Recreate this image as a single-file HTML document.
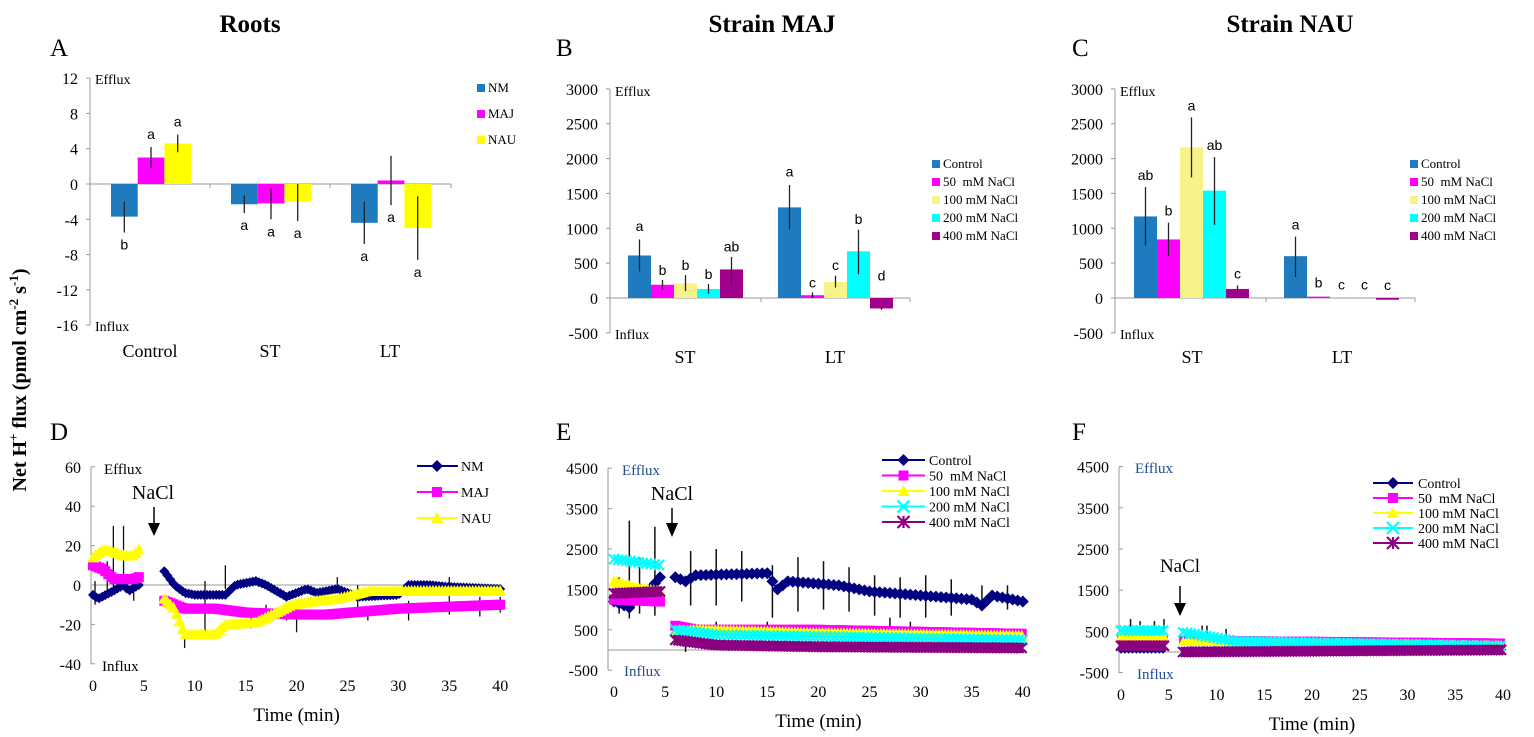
<!DOCTYPE html>
<html><head><meta charset="utf-8">
<style>
html,body{margin:0;padding:0;background:#fff;width:1534px;height:737px;overflow:hidden}
svg{display:block}
</style></head>
<body>
<svg id="s" xmlns="http://www.w3.org/2000/svg" width="1534" height="737" viewBox="0 0 1534 737" font-family="Liberation Serif, serif"></svg>
<script>
var S=document.getElementById('s');var o='';
function T(x,y,t,sz,a,ex){o+='<text x="'+x+'" y="'+y+'" font-size="'+sz+'" text-anchor="'+(a||'start')+'" '+(ex||'')+'>'+t+'</text>';}
function L(x1,y1,x2,y2,c,w){o+='<line x1="'+x1+'" y1="'+y1+'" x2="'+x2+'" y2="'+y2+'" stroke="'+(c||'#000')+'" stroke-width="'+(w||1)+'"/>';}
function R(x,y,w,h,c){if(h<0){y+=h;h=-h;}o+='<rect x="'+x+'" y="'+y+'" width="'+w+'" height="'+h+'" fill="'+c+'"/>';}
// titles
T(250,32,'Roots',25,'middle','font-weight="bold"');
T(772,32,'Strain MAJ',25,'middle','font-weight="bold"');
T(1290,32,'Strain NAU',25,'middle','font-weight="bold"');
[['A',50,56],['B',556,56],['C',1072,56],['D',50,440],['E',556,440],['F',1072,440]].forEach(function(p){T(p[1],p[2],p[0],25);});
o+='<text transform="translate(26,380) rotate(-90)" font-size="20" font-weight="bold" text-anchor="middle">Net H<tspan font-size="13" dy="-8">+</tspan><tspan dy="8"> flux (pmol cm</tspan><tspan font-size="13" dy="-8">-2</tspan><tspan dy="8"> s</tspan><tspan font-size="13" dy="-8">-1</tspan><tspan dy="8">)</tspan></text>';
var AX='#999';
// ---------- Panel A ----------
(function(){var ax=90,y0=184,k=8.82;function Y(v){return y0-v*k;}
L(ax,78,ax,325,AX);for(var v=12;v>=-16;v-=4){L(ax-4,Y(v),ax,Y(v),AX);T(ax-12,Y(v)+6,v,16,'end');}
L(ax,y0,451,y0,AX);[210,330,451].forEach(function(x){L(x,y0,x,y0+4,AX);});
T(95,84,'Efflux',14);T(95,331,'Influx',14);
T(150,357,'Control',18,'middle');T(270,357,'ST',18,'middle');T(390,357,'LT',18,'middle');
var cols=['#1f7bbf','#ff00ff','#ffff00'];
var d=[[[-3.7,-2,-5.5,'b',-1],[3.0,4.2,1.8,'a',1],[4.6,5.6,3.6,'a',1]],[[-2.3,-1.3,-3.3,'a',-1],[-2.2,-0.5,-4,'a',-1],[-2,0,-4.2,'a',-1]],[[-4.4,-2,-6.8,'a',-1],[0.4,3.2,-2.4,'a',-1],[-5,-1.4,-8.6,'a',-1]]];
var st=[111,231,351];
d.forEach(function(g,gi){g.forEach(function(b,bi){var x=st[gi]+bi*26.7;R(x,y0,26.7,-b[0]*k,cols[bi]);var cx=x+13.3;L(cx,Y(b[1]),cx,Y(b[2]),'#222',1.3);
var ly=b[4]>0?Y(b[1])-8:Y(b[2])+17;T(cx,ly,b[3],14,'middle','font-family="Liberation Sans, sans-serif"');});});
['NM','MAJ','NAU'].forEach(function(n,i){R(477,84+i*26,8,8,cols[i]);T(488,92+i*26,n,13);});
})();
// ---------- Panels B, C ----------
var bc=['#1f7bbf','#ff00ff','#f7f38a','#00ffff','#a0008c'];
var names=['Control','50&#160; mM NaCl','100 mM NaCl','200 mM NaCl','400 mM NaCl'];
function barPanel(ax,xend,sep,st,lt,data,leg,labs){var y0=298,k=244/3500;function Y(v){return y0-v*k;}
L(ax,89,ax,333,AX);for(var v=3000;v>=-500;v-=500){L(ax-4,Y(v),ax,Y(v),AX);T(ax-12,Y(v)+6,v,16,'end');}
L(ax,y0,xend,y0,AX);L(sep,y0,sep,y0+4,AX);L(xend,y0,xend,y0+4,AX);
T(ax+5,96,'Efflux',14);T(ax+5,339,'Influx',14);
T(labs[0],363,'ST',18,'middle');T(labs[1],363,'LT',18,'middle');
data.forEach(function(g,gi){var s0=gi?lt:st;g.forEach(function(b,i){var x=s0+i*23;R(x,y0,23,-b[0]*k,bc[i]);var cx=x+11.5;if(b[1]!=null)L(cx,Y(b[1]),cx,Y(b[2]),'#222',1.3);
T(cx,Y(b[3]),b[4],14,'middle','font-family="Liberation Sans, sans-serif"');});});
names.forEach(function(n,i){R(leg,160+i*18,8,8,bc[i]);T(leg+11,168+i*18,n,13);});}
barPanel(610,910,761,628,778,[[[610,840,380,960,'a'],[190,260,120,330,'b'],[210,330,100,400,'b'],[130,200,60,270,'b'],[410,590,210,670,'ab']],[[1300,1620,980,1740,'a'],[40,80,0,150,'c'],[230,320,150,400,'c'],[670,980,340,1060,'b'],[-150,-130,-170,250,'d']]],932,[685,835]);
barPanel(1115,1415,1266,1134,1284,[[[1170,1590,750,1690,'ab'],[840,1080,600,1180,'b'],[2160,2590,1730,2690,'a'],[1540,2020,1050,2120,'ab'],[130,180,80,280,'c']],[[600,880,300,980,'a'],[20,null,null,150,'b'],[0,null,null,120,'c'],[0,null,null,120,'c'],[-25,null,null,115,'c']]],1410,[1192,1342]);
// ---------- time series ----------
function interp(pts,t){for(var i=0;i<pts.length-1;i++){if(t>=pts[i][0]&&t<=pts[i+1][0]){var a=pts[i],b=pts[i+1];return a[1]+(b[1]-a[1])*(t-a[0])/(b[0]-a[0]);}}return pts[pts.length-1][1];}
function mk(type,x,y,c,s){s=s||5;if(type==0)o+='<polygon points="'+x+','+(y-s)+' '+(x+s)+','+y+' '+x+','+(y+s)+' '+(x-s)+','+y+'" fill="'+c+'"/>';
else if(type==1)o+='<rect x="'+(x-s+1)+'" y="'+(y-s+1)+'" width="'+(2*s-2)+'" height="'+(2*s-2)+'" fill="'+c+'"/>';
else if(type==2)o+='<polygon points="'+x+','+(y-s)+' '+(x+s)+','+(y+s-1)+' '+(x-s)+','+(y+s-1)+'" fill="'+c+'"/>';
else if(type==3){o+='<path d="M'+(x-s)+' '+(y-s)+'L'+(x+s)+' '+(y+s)+'M'+(x+s)+' '+(y-s)+'L'+(x-s)+' '+(y+s)+'" stroke="'+c+'" stroke-width="2.2"/>';}
else{o+='<path d="M'+(x-s)+' '+(y-s)+'L'+(x+s)+' '+(y+s)+'M'+(x+s)+' '+(y-s)+'L'+(x-s)+' '+(y+s)+'M'+x+' '+(y-s)+'L'+x+' '+(y+s)+'" stroke="'+c+'" stroke-width="2.2"/>';}}
function series(X,Y,segs,c,type,step,sz){segs.forEach(function(pts){var p='';for(var t=pts[0][0];t<=pts[pts.length-1][0]+1e-6;t+=step){var v=interp(pts,t)+((Math.round(t/step)%2)?1:-1)*0.0;p+=(p?'L':'M')+X(t).toFixed(1)+' '+Y(v).toFixed(1);}
o+='<path d="'+p+'" fill="none" stroke="'+c+'" stroke-width="1.5"/>';for(var t=pts[0][0];t<=pts[pts.length-1][0]+1e-6;t+=step){mk(type,X(t),Y(interp(pts,t)),c,sz);}});}
function tsAxes(ax,x0,kx,ytop,ybot,y0,vals,Y,ecol){L(ax,ytop,ax,ybot,AX);vals.forEach(function(v){L(ax,Y(v),ax+4,Y(v),AX);T(ax-10,Y(v)+6,v,16,'end');});
L(ax,y0,x0+40*kx,y0,AX);for(var t=0;t<=40;t+=5)T(x0+t*kx,ybot+27,t,16,'middle');
T(x0+20*kx,ybot+57,'Time (min)',19,'middle');}
// Panel D
(function(){var ax=91,x0=93,kx=10.18,y0=585,k=1.97;function X(t){return x0+t*kx;}function Y(v){return y0-v*k;}
tsAxes(ax,x0,kx,467,664,y0,[60,40,20,0,-20,-40],Y);
T(ax+13,474,'Efflux',15);T(ax+11,671,'Influx',15);
T(153,499,'NaCl',20,'middle');L(154,507,154,527,'#000',1.5);o+='<polygon points="148,523 160,523 154,536" fill="#000"/>';
[[0.2,-10,2],[1.4,-5,12],[2,30,-4],[3,30,-2],[4,-2,-8],[9,-32,-25],[11,2,-25],[13,10,-2],[15.5,-22,-15],[17,-20,-10],[19,-18,-10],[20,-24,-14],[24,4,-4],[26,0,-15],[27,-18,-12],[31,-18,-8],[35,4,-15],[38,-16,-6],[40,-14,-6]].forEach(function(e){L(X(e[0]),Y(e[1]),X(e[0]),Y(e[2]),'#111',1.3);});
series(X,Y,[[[0,-5],[0.5,-7],[2,-3],[3,0],[3.5,-3],[4.5,0]],[[7,7],[8,0],[9,-4],[10,-5],[13,-5],[14,0],[16,2],[17,0],[19,-6],[20,-4],[21,-2],[22,-4],[24,-2],[25,-4],[26,-6],[30,-5],[31,0],[33,0],[35,-1],[40,-2]]],'#000080',0,0.3,5);
series(X,Y,[[[0,10],[1,8],[2,3],[4,3],[4.5,4]],[[7,-8],[9,-12],[12,-12],[15,-14],[20,-15],[23,-15],[30,-12],[40,-10]]],'#ff00ff',1,0.3,6);
series(X,Y,[[[0,14],[1,18],[2,17],[3,15],[4,15],[4.5,18]],[[7,-7],[8,-12],[9,-25],[12,-25],[13,-20],[16,-19],[18,-14],[19.5,-10],[22,-8],[24,-7],[27,-3],[33,-3],[40,-3]]],'#ffff00',2,0.3,6);
var lg=[['NM','#000080',0],['MAJ','#ff00ff',1],['NAU','#ffff00',2]];lg.forEach(function(l,i){var y=466+i*26;L(417,y,458,y,l[1],2);mk(l[2],437,y,l[1],6);T(461,y+5,l[0],14);});
})();
function legE(x1,x2,tx,ys){var c=[['#000080',0],['#ff00ff',1],['#ffff00',2],['#00ffff',3],['#8b0080',4]];names.forEach(function(n,i){var y=ys[0]+i*ys[1];L(x1,y,x2,y,c[i][0],2);mk(c[i][1],(x1+x2)/2,y,c[i][0],6);T(tx,y+5,n,14);});}
// Panel E
(function(){var ax=608,x0=614,kx=10.22,y0=650,k=0.0404;function X(t){return x0+t*kx;}function Y(v){return y0-v*k;}
tsAxes(ax,x0,kx,468,670,y0,[4500,3500,2500,1500,500,-500],Y);
T(622,475,'Efflux',15,'start','fill="#1f4e8c"');T(624,676,'Influx',15,'start','fill="#1f4e8c"');
T(672,500,'NaCl',20,'middle');L(672,508,672,527,'#000',1.5);o+='<polygon points="666,523 678,523 672,537" fill="#000"/>';
[[0.5,900,1800],[1.5,780,3200],[2.5,900,2300],[4,850,3050],[7.5,1100,2450],[10,1100,2500],[12.5,1200,2450],[15.5,800,2100],[18,950,2300],[20.5,1000,2200],[23,950,2050],[25.5,850,1850],[28,800,1800],[30.5,800,1850],[33,850,1750],[36,1000,1600],[38.5,1000,1600],[7,-50,450],[10,350,700],[15,350,700],[27,400,800],[29,350,700]].forEach(function(e){L(X(e[0]),Y(e[1]),X(e[0]),Y(e[2]),'#111',1.5);});
series(X,Y,[[[0,1200],[1.5,1050],[2.5,1400],[3.5,1500],[4.5,1800]],[[6,1800],[7,1700],[8,1850],[15,1900],[16,1500],[17,1700],[22,1600],[25,1450],[30,1350],[35,1250],[36,1100],[37,1350],[40,1200]]],'#000080',0,0.5,6);
series(X,Y,[[[0,1250],[4.5,1200]],[[6,600],[8,500],[20,500],[40,400]]],'#ff00ff',1,0.3,6);
series(X,Y,[[[0,1700],[2,1550],[4.5,1450]],[[6,450],[8,500],[20,420],[40,350]]],'#ffff00',2,0.3,6);
series(X,Y,[[[0,2250],[4.5,2100]],[[6,500],[10,380],[40,250]]],'#00ffff',3,0.4,5);
series(X,Y,[[[0,1400],[4.5,1450]],[[6,250],[10,120],[20,80],[40,50]]],'#8b0080',4,0.3,5);
legE(882,925,929,[460,15.5]);
})();
// Panel F
(function(){var ax=1119,x0=1121,kx=9.55,y0=652,k=0.0412;function X(t){return x0+t*kx;}function Y(v){return y0-v*k;}
tsAxes(ax,x0,kx,467,673,y0,[4500,3500,2500,1500,500,-500],Y);
T(1135,473,'Efflux',15,'start','fill="#1f4e8c"');T(1137,679,'Influx',15,'start','fill="#1f4e8c"');
T(1180,572,'NaCl',19,'middle');L(1180,586,1180,604,'#000',1.5);o+='<polygon points="1174,603 1186,603 1180,616" fill="#000"/>';
[[1,500,800],[2,500,750],[3.5,500,750],[4.5,500,800],[8.5,450,640],[9,450,640],[11,350,560]].forEach(function(e){L(X(e[0]),Y(e[1]),X(e[0]),Y(e[2]),'#111',1.5);});
series(X,Y,[[[0,80],[4.5,80]],[[7,20],[40,60]]],'#000080',0,0.4,5);
series(X,Y,[[[0,300],[4.5,300]],[[6.5,300],[40,230]]],'#ff00ff',1,0.3,5);
series(X,Y,[[[0,380],[4.5,380]],[[6.5,250],[40,170]]],'#ffff00',2,0.3,5);
series(X,Y,[[[0,520],[4.5,520]],[[6.5,480],[12,260],[40,140]]],'#00ffff',3,0.4,5);
series(X,Y,[[[0,150],[4.5,150]],[[6.5,0],[40,50]]],'#8b0080',4,0.3,5);
legE(1373,1413,1418,[483,15]);
})();
S.innerHTML=o;
</script>
</body></html>
